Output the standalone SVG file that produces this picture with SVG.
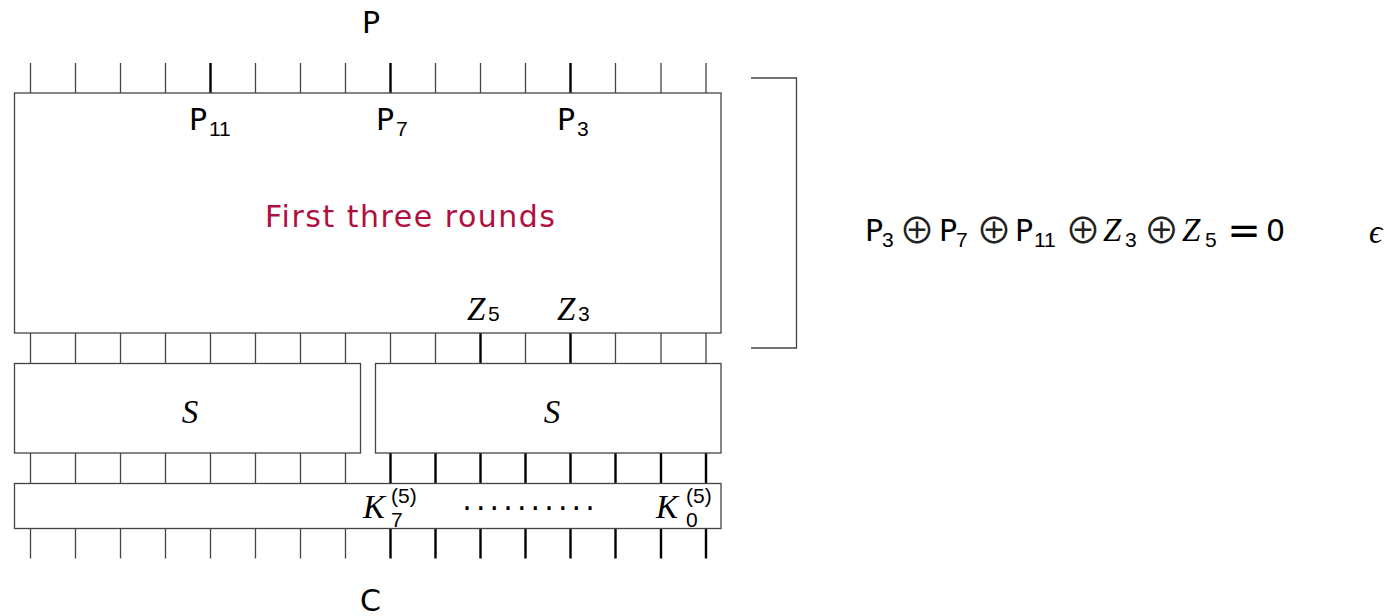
<svg xmlns="http://www.w3.org/2000/svg" width="1389" height="616" viewBox="0 0 1389 616">
<style>
.bg{fill:#fff}
.box{fill:#fff;stroke:#444;stroke-width:1.3}
.w{stroke:#444;stroke-width:1.3;fill:none}
.wt{stroke:#000;stroke-width:2.4;fill:none}
.br{stroke:#444;stroke-width:1.3;fill:none}
.sf{font-family:"DejaVu Sans","Liberation Sans",sans-serif;font-size:30px;font-style:normal;fill:#000}
.sub{font-family:"Liberation Sans","DejaVu Sans",sans-serif;font-size:21px;font-style:normal;fill:#000}
.mi{font-family:"Liberation Serif","DejaVu Serif",serif;font-style:italic;font-size:33px;fill:#000}
.op{font-family:"Noto Sans CJK SC","DejaVu Sans",sans-serif;font-size:36px;fill:#222}
.eq{font-family:"DejaVu Sans","Liberation Sans",sans-serif;font-size:40px;fill:#000}
.red{fill:#b01040}
</style>
<rect class="bg" x="0" y="0" width="1389" height="616"/>

<g id="connectors">
  <g id="wires-top">
    <path class="w" d="M30.5 63V93M75.5 63V93M120.5 63V93M165.5 63V93M255.5 63V93M300.5 63V93M345.5 63V93M435.5 63V93M480.5 63V93M525.5 63V93M615.5 63V93M661 63V93M706 63V93"/>
    <path class="wt" d="M210.5 63V93M390.5 63V93M570.5 63V93"/>
  </g>
  <g id="wires-mid">
    <path class="w" d="M30.5 333V363M75.5 333V363M120.5 333V363M165.5 333V363M210.5 333V363M255.5 333V363M300.5 333V363M345.5 333V363M390.5 333V363M435.5 333V363M525.5 333V363M615.5 333V363M661 333V363M706 333V363"/>
    <path class="wt" d="M480.5 333V363M570.5 333V363"/>
  </g>
  <g id="wires-key">
    <path class="w" d="M30.5 453V483.5M75.5 453V483.5M120.5 453V483.5M165.5 453V483.5M210.5 453V483.5M255.5 453V483.5M300.5 453V483.5M345.5 453V483.5"/>
    <path class="wt" d="M390.5 453V483.5M435.5 453V483.5M480.5 453V483.5M525.5 453V483.5M570.5 453V483.5M615.5 453V483.5M661 453V483.5M706 453V483.5"/>
  </g>
  <g id="wires-out">
    <path class="w" d="M30.5 528.5V558.5M75.5 528.5V558.5M120.5 528.5V558.5M165.5 528.5V558.5M210.5 528.5V558.5M255.5 528.5V558.5M300.5 528.5V558.5M345.5 528.5V558.5"/>
    <path class="wt" d="M390.5 528.5V558.5M435.5 528.5V558.5M480.5 528.5V558.5M525.5 528.5V558.5M570.5 528.5V558.5M615.5 528.5V558.5M661 528.5V558.5M706 528.5V558.5"/>
  </g>
</g>

<g id="label-P">
  <text class="sf" x="371" y="33" text-anchor="middle">P</text>
</g>

<g id="rounds">
  <rect class="box" x="14.5" y="93" width="706.5" height="240"/>
  <text class="sf" x="189" y="130">P</text><text class="sub" x="209" y="136">11</text>
  <text class="sf" x="376" y="130">P</text><text class="sub" x="396" y="136">7</text>
  <text class="sf" x="557" y="130">P</text><text class="sub" x="577" y="136">3</text>
  <text class="sf red" x="265" y="227" textLength="290" lengthAdjust="spacing">First three rounds</text>
  <text class="mi" x="467" y="320">Z</text><text class="sub" x="488" y="321">5</text>
  <text class="mi" x="557" y="320">Z</text><text class="sub" x="578" y="321">3</text>
</g>

<g id="bracket">
  <path class="br" d="M751 78H796.5V348H751"/>
</g>

<g id="sbox-left">
  <rect class="box" x="14.5" y="363.5" width="346" height="89.5"/>
  <text class="mi" x="190" y="423" text-anchor="middle">S</text>
</g>
<g id="sbox-right">
  <rect class="box" x="375.5" y="363.5" width="345.5" height="89.5"/>
  <text class="mi" x="552" y="423" text-anchor="middle">S</text>
</g>

<g id="key">
  <rect class="box" x="14.5" y="483.5" width="706.5" height="45"/>
  <text class="mi" x="363" y="518">K</text>
  <text class="sub" x="391" y="503">(5)</text>
  <text class="sub" x="391" y="527">7</text>
  <text class="sf" font-size="22" text-anchor="middle" x="467 480.7 494.3 508 521.7 535.3 549 562.7 576.3 590" y="519">··········</text>
  <text class="mi" x="656" y="518">K</text>
  <text class="sub" x="686" y="503">(5)</text>
  <text class="sub" x="686" y="527">0</text>
</g>

<g id="label-C">
  <text class="sf" x="370.5" y="611" text-anchor="middle">C</text>
</g>

<g id="formula">
  <text class="sf" x="865" y="241">P</text>
  <text class="sub" x="882" y="247">3</text>
  <text class="op" x="917" y="244" text-anchor="middle">⊕</text>
  <text class="sf" x="939" y="241">P</text>
  <text class="sub" x="956" y="247">7</text>
  <text class="op" x="994" y="244" text-anchor="middle">⊕</text>
  <text class="sf" x="1015" y="241">P</text>
  <text class="sub" x="1034" y="247">11</text>
  <text class="op" x="1083" y="244" text-anchor="middle">⊕</text>
  <text class="mi" x="1103" y="241">Z</text>
  <text class="sub" x="1125" y="247">3</text>
  <text class="op" x="1161.5" y="244" text-anchor="middle">⊕</text>
  <text class="mi" x="1182" y="241">Z</text>
  <text class="sub" x="1205" y="247">5</text>
  <text class="eq" x="1244" y="244" text-anchor="middle">=</text>
  <text class="sf" x="1266" y="241">0</text>
  <text class="mi" x="1369" y="243" font-size="30">ϵ</text>
</g>
</svg>
